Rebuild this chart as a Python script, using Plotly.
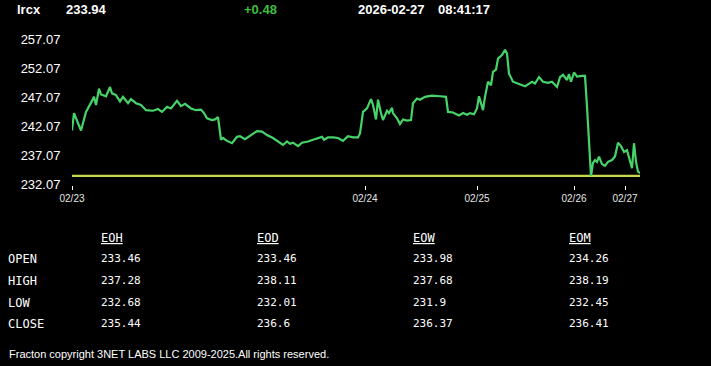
import plotly.graph_objects as go

W, H = 711, 366

# ---------------- data ----------------
symbol = "lrcx"
last_price = "233.94"
change = "+0.48"
date_str = "2026-02-27"
time_str = "08:41:17"

# bar index along the session axis and price
bar_idx = [0, 2, 9, 14, 20, 22, 24, 27, 29, 34, 38, 40, 44, 48, 51, 56, 59, 64, 69, 74,
           81, 86, 90, 95, 99, 105, 109, 113, 119, 124, 129, 132, 135, 140, 143, 146, 149, 151, 155, 160,
           165, 168, 173, 180, 185, 190, 195, 201, 206, 211, 215, 218, 221, 226, 230, 236, 241, 246, 250, 252,
           256, 261, 266, 271, 276, 281, 286, 288, 291, 293, 295, 299, 301, 304, 306, 309, 311, 315, 317, 320,
           321, 325, 328, 331, 335, 339, 341, 345, 348, 353, 360, 368, 374, 376, 381, 387, 391, 395, 398, 402,
           405, 407, 411, 413, 416, 419, 421, 424, 426, 430, 433, 435, 437, 441, 446, 453, 460, 463, 467, 471,
           476, 480, 485, 488, 491, 495, 497, 499, 502, 505, 510, 513, 515, 517, 519, 521, 523, 525, 527, 530,
           533, 536, 540, 543, 546, 549, 552, 555, 557, 560, 562, 564, 566, 568]
price = [241.3, 244.3, 241.3, 244.5, 246.4, 247.1, 245.7, 248.5, 247.5, 247.2, 248.8, 247.7, 247.4, 246.3, 247.1, 246.0, 246.7, 246.0, 245.7, 244.8,
         244.7, 245.0, 244.5, 245.4, 245.1, 246.4, 245.5, 245.9, 245.1, 244.8, 244.9, 244.3, 243.4, 243.1, 243.2, 243.6, 239.7, 240.0, 239.5, 239.1,
         240.2, 240.3, 239.8, 240.7, 241.2, 241.1, 240.5, 240.0, 239.4, 238.8, 239.4, 239.0, 239.2, 238.6, 239.2, 239.4, 239.7, 240.0, 240.2, 239.7,
         240.1, 240.1, 240.0, 239.5, 240.3, 240.1, 240.1, 240.8, 244.5, 244.8, 245.1, 246.7, 245.7, 243.2, 246.6, 244.3, 243.1, 244.7, 244.3, 245.2,
         244.3, 243.4, 242.4, 243.2, 243.0, 243.1, 246.0, 246.8, 246.6, 247.1, 247.3, 247.2, 247.1, 244.5, 244.4, 243.9, 244.3, 244.0, 244.3, 244.1,
         245.1, 247.2, 244.8, 247.1, 249.7, 249.1, 251.4, 251.8, 253.7, 254.3, 255.2, 254.6, 251.1, 249.7, 249.4, 248.9, 249.7, 249.4, 250.5, 249.7,
         249.5, 249.7, 248.8, 250.5, 250.9, 250.0, 251.0, 249.7, 251.3, 250.6, 250.7, 250.7, 245.4, 239.7, 233.45, 235.7, 236.2, 235.9, 236.8, 235.5,
         235.2, 235.9, 236.2, 236.8, 239.2, 238.6, 237.6, 237.9, 236.8, 234.8, 239.1, 235.9, 234.2, 233.94]

open_level = 233.46

y_ticks = [232.07, 237.07, 242.07, 247.07, 252.07, 257.07]
x_tick_idx = [0, 293, 405, 502, 553]
x_tick_text = ["02/23", "02/24", "02/25", "02/26", "02/27"]

table_cols = ["EOH", "EOD", "EOW", "EOM"]
table_rows = ["OPEN", "HIGH", "LOW", "CLOSE"]
eoh_vals = ["233.46", "237.28", "232.68", "235.44"]
eod_vals = ["233.46", "238.11", "232.01", "236.6"]
eow_vals = ["233.98", "237.68", "231.9", "236.37"]
eom_vals = ["234.26", "238.19", "232.45", "236.41"]

footer = "Fracton copyright 3NET LABS LLC 2009-2025.All rights reserved."

# ---------------- figure ----------------
def px(x):
    return x / W

def py(y):
    return 1 - y / H

fig = go.Figure()
fig.add_trace(go.Scatter(x=[bar_idx[0], bar_idx[-1]], y=[open_level, open_level], mode="lines",
                         line=dict(color="#c8d84e", width=2.2), hoverinfo="skip"))
fig.add_trace(go.Scatter(x=bar_idx, y=price, mode="lines",
                         line=dict(color="#46d46a", width=2.2), hoverinfo="skip"))

top_px, bot_px = 30, 185
unit_px = 29 / 5.0
y_lo = y_ticks[0] - (bot_px - 184) / unit_px
y_hi = y_ticks[-1] + (39 - top_px) / unit_px

fig.update_layout(
    width=W, height=H, margin=dict(l=0, r=0, t=0, b=0, pad=0, autoexpand=False),
    paper_bgcolor="black", plot_bgcolor="black", showlegend=False,
    xaxis=dict(domain=[px(72), px(640)], range=[bar_idx[0], bar_idx[-1]], automargin=False,
               tickvals=x_tick_idx, ticktext=x_tick_text, ticks="outside", ticklen=4,
               tickcolor="white", tickwidth=1, showgrid=False, zeroline=False, showline=False,
               tickfont=dict(family="Liberation Sans, Arial", size=10, color="#e6e6e6")),
    yaxis=dict(domain=[py(bot_px), py(top_px)], range=[y_lo, y_hi], automargin=False,
               tickvals=y_ticks, tickformat=".2f", ticks="outside", ticklen=8, tickcolor="black",
               showgrid=False, zeroline=False, showline=False,
               tickfont=dict(family="Liberation Sans, Arial", size=13, color="white")),
)

ann = []
def txt(x, y, s, size, color="white", family="Liberation Sans, Arial"):
    ann.append(dict(x=px(x), y=py(y), xref="paper", yref="paper", text=s, showarrow=False,
                    xanchor="left", yanchor="middle", borderpad=0,
                    font=dict(family=family, size=size, color=color)))

txt(16, 9, "<b>" + symbol + "</b>", 13)
txt(65, 9, "<b>" + last_price + "</b>", 13)
txt(243, 9, "<b>" + change + "</b>", 13, color="#3fbf3a")
txt(357, 9, "<b>" + date_str + "</b>", 13)
txt(437, 9, "<b>" + time_str + "</b>", 13)

mono = "DejaVu Sans Mono, monospace"
col_x = [100, 256, 412, 568]
row_y = [259, 281, 303, 324]
for cx, name in zip(col_x, table_cols):
    txt(cx, 238, "<u>" + name + "</u>", 12, family=mono)
for ry, name in zip(row_y, table_rows):
    txt(7, ry, name, 12, family=mono)
for cx, vals in zip(col_x, [eoh_vals, eod_vals, eow_vals, eom_vals]):
    for ry, v in zip(row_y, vals):
        txt(cx, ry - 1, v, 11, family=mono)

txt(8, 354, footer, 11)

fig.update_layout(annotations=ann)
fig.write_html("out.html")
